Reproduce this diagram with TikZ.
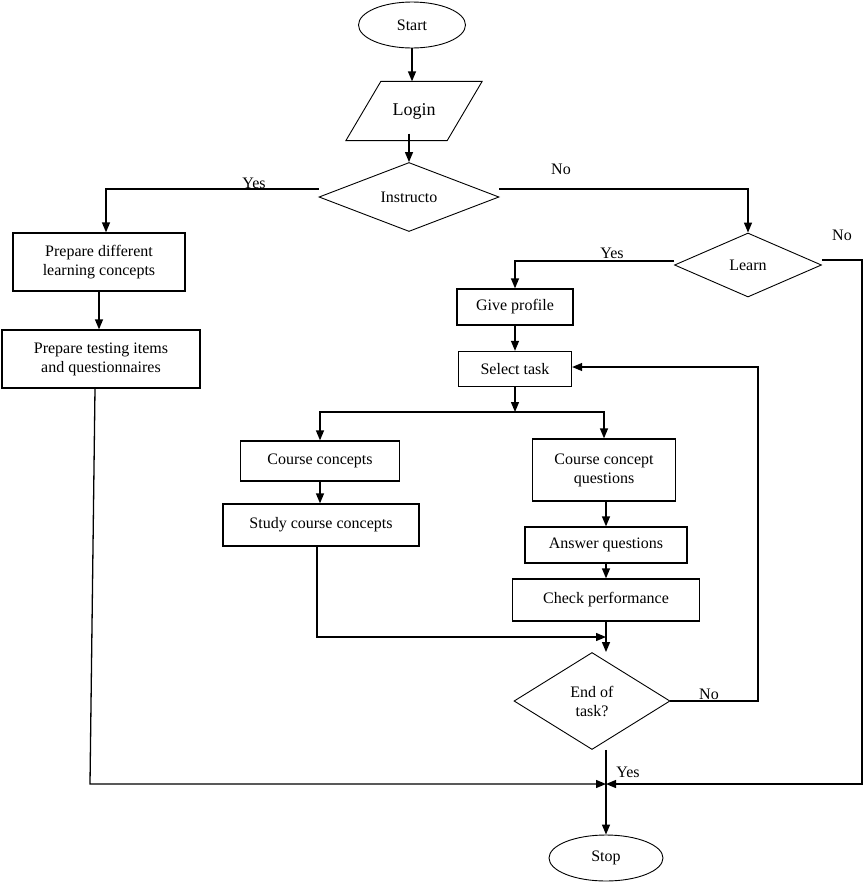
\documentclass[tikz,border=0pt]{standalone}
\usepackage{fontspec}
\setmainfont{Liberation Serif}
\usetikzlibrary{shapes.geometric}
\usetikzlibrary{arrows.meta}
\usetikzlibrary{calc}

\begin{document}
\begin{tikzpicture}[x=1pt, y=-1pt, line width=1.3pt, >={Triangle[length=10pt,width=8pt]},
        every node/.style={font=\fontsize{16}{19}\selectfont},
        box/.style={draw, rectangle, align=center, inner sep=0pt},
        decision/.style={draw, diamond, align=center, inner sep=0pt, line width=0.9pt},
        terminal/.style={draw, ellipse, inner sep=0pt, line width=0.9pt}]
        \useasboundingbox (0,0) rectangle (864,884);
        \node [terminal, minimum width=107pt, minimum height=46pt] (start) at (412,25) {Start};
        \node [rectangle, minimum width=100pt, minimum height=58pt, inner sep=0pt,
               font=\fontsize{18}{20}\selectfont] (login) at (414,111) {Login};
        \draw [line width=0.9pt] ($(login.south west)+(-17.5,0)$) -- ($(login.south east)+(-17.5,0)$)
              -- ($(login.north east)+(17.5,0)$) -- ($(login.north west)+(17.5,0)$) -- cycle;
        \node [decision, minimum width=180pt, minimum height=69pt] (instr) at (409,197) {Instructo};
        \node [box, minimum width=172pt, minimum height=58pt] (prep1) at (99,262) {Prepare different\\learning concepts};
        \node [box, minimum width=198pt, minimum height=58pt] (prep2) at (101,359) {Prepare testing items\\and questionnaires};
        \node [decision, minimum width=147pt, minimum height=64pt] (learn) at (748,265) {Learn};
        \node [box, minimum width=116pt, minimum height=36pt] (give) at (515,307) {Give profile};
        \node [box, minimum width=113pt, minimum height=35pt] (select) at (515,369) {Select task};
        \node [box, minimum width=159pt, minimum height=40pt] (course) at (320,461) {Course concepts};
        \node [box, minimum width=196pt, minimum height=42pt] (study) at (321,525) {Study course concepts};
        \node [box, minimum width=143pt, minimum height=62pt] (ccq) at (604,470) {Course concept\\questions};
        \node [box, minimum width=162pt, minimum height=36pt] (answer) at (606,545) {Answer questions};
        \node [box, minimum width=187pt, minimum height=42pt] (check) at (606,600) {Check performance};
        \node [decision, minimum width=156pt, minimum height=97pt] (endt) at (592,701) {End of\\task?};
        \node [terminal, minimum width=114pt, minimum height=46pt] (stop) at (606,858) {Stop};
        \node (yes1) at (254,183) {Yes};
        \node (no1) at (561,169) {No};
        \node (yes2) at (612,253) {Yes};
        \node (no2) at (842,235) {No};
        \node (no3) at (709,694) {No};
        \node (yes3) at (628,772) {Yes};
        \coordinate (split) at (515,412);
        \coordinate (join) at (606,637);
        \coordinate (loopc) at (758,367);
        \coordinate (lb) at (90,784);
        \coordinate (rb) at (862,784);
        \draw[->] (start.south) -- (start.south |- login.north);
        \draw[->] ([yshift=7pt]login.south -| instr.north) -- (instr.north);
        \draw[->] ([yshift=8pt]instr.west) -| ([xshift=7pt]prep1.north);
        \draw[->] ([yshift=8pt]instr.east) -| (learn.north);
        \draw[->] (prep1.south) -- (prep1.south |- prep2.north);
        \draw[->] ([xshift=-6pt]prep2.south) -- (lb) -- (lb -| stop.north);
        \draw[->] ([yshift=4pt]learn.west) -| (give.north);
        \draw[->] ([yshift=5pt]learn.east) -| (rb) -- (rb -| stop.north);
        \draw[->] (give) -- (select);
        \draw[->] (select.south) -- (split);
        \draw[->] (split) -| (course.north);
        \draw[->] (split) -| (ccq.north);
        \draw[->] (course.south) -- (course.south |- study.north);
        \draw[->] (ccq.south -| answer.north) -- (answer.north);
        \draw[->] (answer) -- (check);
        \draw[->] ([xshift=-4pt]study.south) |- (join);
        \draw[->] (check.south) -- (check.south |- endt.north);
        \draw[->] (endt.east) -| (loopc) -- (loopc -| select.east);
        \draw[->] (endt.south -| stop.north) -- (stop.north);
    \end{tikzpicture}
\end{document}
